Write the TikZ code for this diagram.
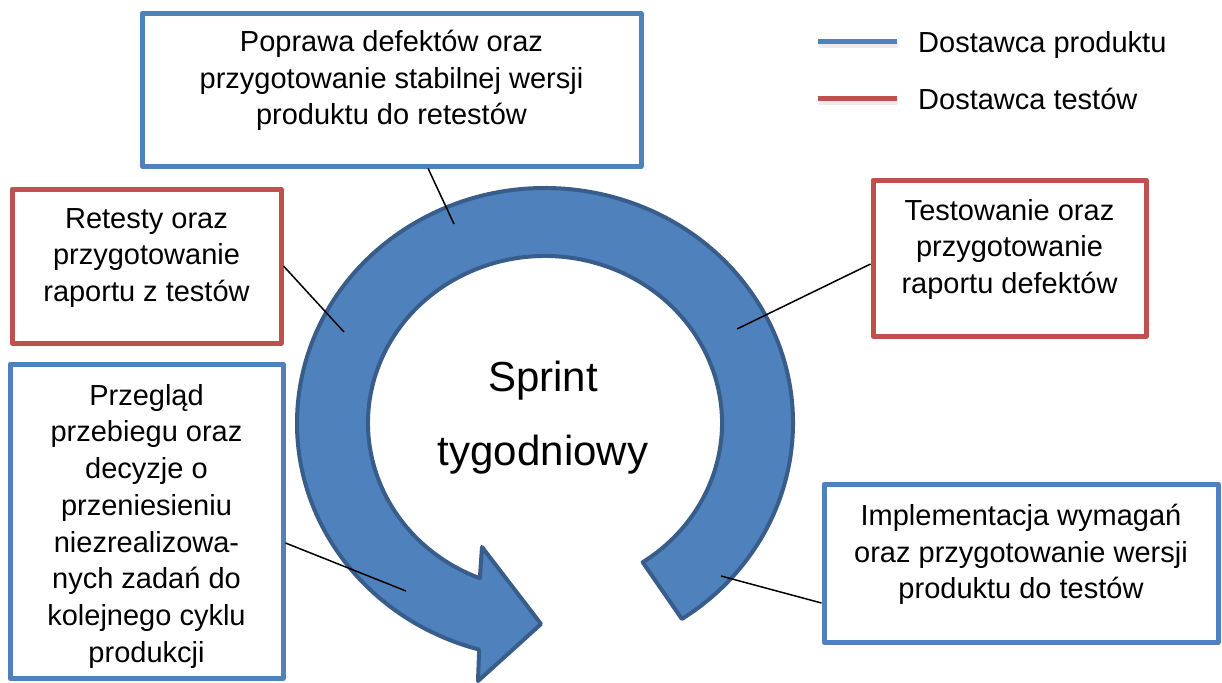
\documentclass[tikz,border=0pt]{standalone}
\usepackage{fontspec}
\setmainfont{Liberation Sans}
\usetikzlibrary{positioning}

\definecolor{problue}{HTML}{4F81BD}
\definecolor{prored}{HTML}{C0504D}
\definecolor{ringedge}{HTML}{385D8A}

\begin{document}
\begin{tikzpicture}[x=1pt, y=-1pt,
  box/.style={draw, line width=5pt, line join=round, fill=white, inner sep=0pt},
  bluebox/.style={box, draw=problue},
  redbox/.style={box, draw=prored},
  txt/.style={align=center, inner sep=0pt, font=\fontsize{29}{36.7}\selectfont},
  lead/.style={line width=1.5pt},
  keyline/.style={line width=5pt},
  keyshade/.style={line width=6pt, black, opacity=0.08}]

\useasboundingbox (0,0) rectangle (1222,682);

\coordinate (ring) at (545,423);
\draw[fill=problue, draw=ringedge, line width=4pt, line join=round]
  ([shift={(ring)}]-56.5:248pt and 235pt)
  arc[start angle=-56.5, end angle=254.6, x radius=248pt, y radius=235pt]
  -- (478,681) -- (541,624) -- (482,547)
  -- ([shift={(ring)}]248.4:177pt and 167pt)
  arc[start angle=248.4, end angle=-56.5, x radius=177pt, y radius=167pt]
  -- cycle;
\node[align=center, inner sep=0pt, font=\fontsize{42}{74}\selectfont] (sprint) at (543,418) {Sprint\\tygodniowy};

\node[bluebox, minimum width=499pt, minimum height=152pt] (fixbox) at (391.5,90) {};
\node[txt, below=18.5pt of fixbox.north] (fixtxt) {Poprawa defektów oraz\\przygotowanie stabilnej wersji\\produktu do retestów};

\node[redbox, minimum width=269pt, minimum height=154pt] (retestbox) at (146.5,266) {};
\node[txt, below=21.5pt of retestbox.north] (retesttxt) {Retesty oraz\\przygotowanie\\raportu z testów};

\node[redbox, minimum width=273pt, minimum height=156pt] (testbox) at (1009.5,258) {};
\node[txt, below=21.5pt of testbox.north] (testtxt) {Testowanie oraz\\przygotowanie\\raportu defektów};

\node[bluebox, minimum width=394pt, minimum height=158pt] (implbox) at (1021,563) {};
\node[txt, below=22.5pt of implbox.north] (impltxt) {Implementacja wymagań\\oraz przygotowanie wersji\\produktu do testów};

\node[bluebox, minimum width=273pt, minimum height=314pt] (reviewbox) at (146.5,521) {};
\node[txt, below=22.5pt of reviewbox.north] (reviewtxt) {Przegląd\\przebiegu oraz\\decyzje o\\przeniesieniu\\niezrealizowa-\\nych zadań do\\kolejnego cyklu\\produkcji};

\coordinate (fixend) at (454,224);
\coordinate (retestend) at (344,332);
\coordinate (testend) at (737,329);
\coordinate (implend) at (721,576);
\coordinate (reviewend) at (406,591);
\draw[lead] (fixbox) -- (fixend);
\draw[lead] (retestbox.east) -- (retestend);
\draw[lead] ([yshift=-6pt]testbox.west) -- (testend);
\draw[lead] ([yshift=-40pt]implbox.west) -- (implend);
\draw[lead] ([yshift=-22pt]reviewbox.east) -- (reviewend);

\draw[keyshade] (819,45) -- (898,45);
\draw[keyline, problue] (818,42) -- (897,42);
\node[txt, anchor=base west] (prodkey) at (918,53) {Dostawca produktu};
\draw[keyshade] (819,102) -- (898,102);
\draw[keyline, prored] (818,99) -- (897,99);
\node[txt, anchor=base west] (testkey) at (918,110) {Dostawca testów};
\end{tikzpicture}
\end{document}
